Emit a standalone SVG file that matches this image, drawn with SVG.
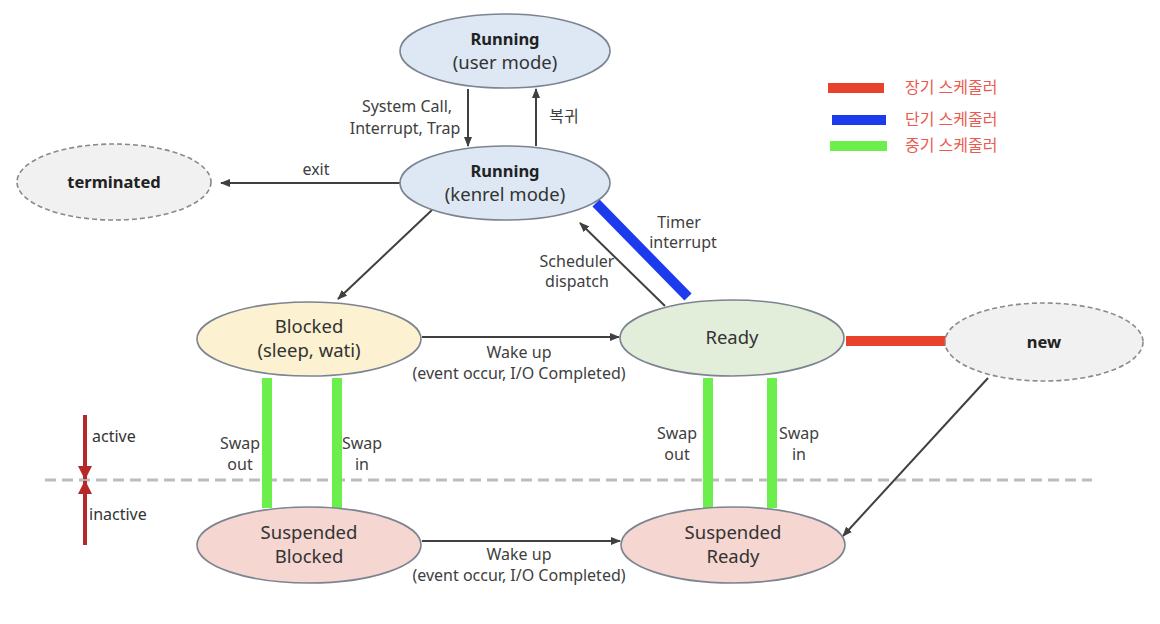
<svg xmlns="http://www.w3.org/2000/svg" width="1160" height="624" viewBox="0 0 1160 624">
  <style>
    text { font-family: "Noto Sans", "Noto Sans CJK KR", sans-serif; fill: #333; }
    .node { stroke: #7b8490; stroke-width: 1.6; }
    .ghost { fill: #f1f1f1; stroke: #8a8a8a; stroke-width: 1.6; stroke-dasharray: 5 3; }
    .lbl { font-size: 18.5px; text-anchor: middle; }
    .bold { font-size: 16.5px; font-weight: bold; text-anchor: middle; fill: #222; }
    .edge { font-size: 16px; text-anchor: middle; fill: #404040; }
    .arrow { stroke: #404040; stroke-width: 2; fill: none; marker-end: url(#ah); }
    .green { stroke: #6cef4c; stroke-width: 10; }
    .legend { font-size: 16px; fill: #ea5a50; }
  </style>
  <defs>
    <marker id="ah" markerWidth="10" markerHeight="8" refX="9" refY="4" orient="auto" markerUnits="userSpaceOnUse">
      <path d="M0,0 L10,4 L0,8 Z" fill="#404040"/>
    </marker>
    <marker id="rh" markerWidth="14" markerHeight="14" refX="13" refY="7" orient="auto" markerUnits="userSpaceOnUse">
      <path d="M0,0 L14,7 L0,14 Z" fill="#b42a2a"/>
    </marker>
  </defs>

  <!-- active / inactive boundary -->
  <line x1="45" y1="480" x2="1092" y2="480" stroke="#bcbcbc" stroke-width="3" stroke-dasharray="11 6"/>
  <line x1="85" y1="415" x2="85" y2="479" stroke="#b42a2a" stroke-width="4" marker-end="url(#rh)"/>
  <line x1="85" y1="545" x2="85" y2="481" stroke="#b42a2a" stroke-width="4" marker-end="url(#rh)"/>
  <text x="92" y="442" font-size="16" fill="#333">active</text>
  <text x="89" y="520" font-size="16" fill="#333">inactive</text>

  <!-- legend -->
  <g id="legend">
    <line x1="828" y1="88" x2="884" y2="88" stroke="#e8412c" stroke-width="10"/>
    <line x1="832" y1="120" x2="886" y2="120" stroke="#1c3bec" stroke-width="10"/>
    <line x1="830" y1="146" x2="887" y2="146" stroke="#6cef4c" stroke-width="10"/>
    <text class="legend" x="905" y="93">장기 스케줄러</text>
    <text class="legend" x="905" y="125">단기 스케줄러</text>
    <text class="legend" x="905" y="151">중기 스케줄러</text>
  </g>

  <!-- connectors -->
  <g id="connectors">
    <line class="arrow" x1="468" y1="89" x2="468" y2="146"/>
    <line class="arrow" x1="536" y1="146" x2="536" y2="89"/>
    <line class="arrow" x1="400" y1="183" x2="221" y2="183"/>
    <line class="arrow" x1="432" y1="210" x2="338" y2="299"/>
    <line class="arrow" x1="665" y1="306" x2="580" y2="223"/>
    <line x1="596" y1="203" x2="688" y2="297" stroke="#1c3bec" stroke-width="10"/>
    <line class="arrow" x1="422" y1="337" x2="619" y2="337"/>
    <line x1="846" y1="341" x2="946" y2="341" stroke="#e8412c" stroke-width="10"/>
    <line class="arrow" x1="988" y1="378" x2="843" y2="536"/>
    <line class="arrow" x1="422" y1="541" x2="620" y2="541"/>
    <line class="green" x1="267" y1="378" x2="267" y2="508"/>
    <line class="green" x1="337" y1="378" x2="337" y2="508"/>
    <line class="green" x1="708" y1="378" x2="708" y2="508"/>
    <line class="green" x1="772" y1="378" x2="772" y2="508"/>

    <text class="edge" x="407" y="112">System Call,</text>
    <text class="edge" x="405" y="134">Interrupt, Trap</text>
    <text class="edge" x="564" y="122">복귀</text>
    <text class="edge" x="316" y="175">exit</text>
    <text class="edge" x="679" y="228">Timer</text>
    <text class="edge" x="683" y="248">interrupt</text>
    <text class="edge" x="577" y="267">Scheduler</text>
    <text class="edge" x="577" y="287">dispatch</text>
    <text class="edge" x="519" y="358">Wake up</text>
    <text class="edge" x="519" y="379">(event occur, I/O Completed)</text>
    <text class="edge" x="519" y="560">Wake up</text>
    <text class="edge" x="519" y="581">(event occur, I/O Completed)</text>
    <text class="edge" x="240" y="449">Swap</text>
    <text class="edge" x="240" y="470">out</text>
    <text class="edge" x="362" y="449">Swap</text>
    <text class="edge" x="362" y="470">in</text>
    <text class="edge" x="677" y="439">Swap</text>
    <text class="edge" x="677" y="460">out</text>
    <text class="edge" x="799" y="439">Swap</text>
    <text class="edge" x="799" y="460">in</text>
  </g>

  <!-- states -->
  <g id="running-user">
    <ellipse class="node" cx="505" cy="51" rx="105" ry="37" fill="#dde8f4"/>
    <text class="bold" x="505" y="45">Running</text>
    <text class="lbl" x="505" y="69" font-size="17">(user mode)</text>
  </g>
  <g id="running-kernel">
    <ellipse class="node" cx="505" cy="183" rx="105" ry="37" fill="#dde8f4"/>
    <text class="bold" x="505" y="177">Running</text>
    <text class="lbl" x="505" y="201" font-size="17">(kenrel mode)</text>
  </g>
  <g id="terminated">
    <ellipse class="ghost" cx="114" cy="182" rx="97" ry="38"/>
    <text class="bold" x="114" y="188" font-size="15">terminated</text>
  </g>
  <g id="blocked">
    <ellipse class="node" cx="309" cy="339" rx="112" ry="37" fill="#fcf1d0"/>
    <text class="lbl" x="309" y="333">Blocked</text>
    <text class="lbl" x="309" y="357">(sleep, wati)</text>
  </g>
  <g id="ready">
    <ellipse class="node" cx="732" cy="338" rx="112" ry="38" fill="#e3eeda"/>
    <text class="lbl" x="732" y="344" font-size="20">Ready</text>
  </g>
  <g id="new">
    <ellipse class="ghost" cx="1044" cy="342" rx="99" ry="39"/>
    <text class="bold" x="1044" y="348" font-size="15">new</text>
  </g>
  <g id="suspended-blocked">
    <ellipse class="node" cx="309" cy="545" rx="112" ry="38" fill="#f5d6d1"/>
    <text class="lbl" x="309" y="539">Suspended</text>
    <text class="lbl" x="309" y="563">Blocked</text>
  </g>
  <g id="suspended-ready">
    <ellipse class="node" cx="733" cy="545" rx="112" ry="38" fill="#f5d6d1"/>
    <text class="lbl" x="733" y="539">Suspended</text>
    <text class="lbl" x="733" y="563">Ready</text>
  </g>
</svg>
